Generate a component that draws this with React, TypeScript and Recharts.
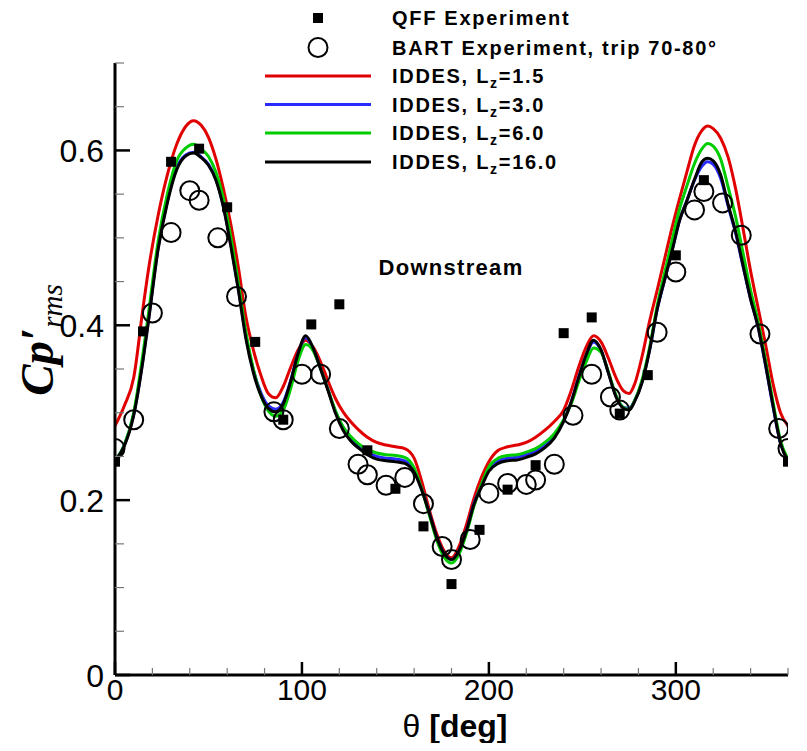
import React from 'react';
import { ComposedChart, Line, Scatter, XAxis, YAxis } from 'recharts';

// ---------- data ----------
const simAngles = [0,5,10,15,18,23,28,33,38,42,46,50,54,58,62,66,70,74,78,82,86,90,94,98,102,106,110,114,118,122,126,130,135,140,145,150,155,160,164,168,172,176,180,184,188,192,196,200,205,210,215,220,225,230,235,240,244,248,252,256,260,264,268,272,275,278,282,286,290,294,298,302,306,310,314,317,320,324,328,332,336,340,344,348,352,356,360];

const iddesLz15 = [0.285,0.308,0.340,0.420,0.465,0.525,0.572,0.607,0.628,0.634,0.629,0.615,0.590,0.556,0.515,0.466,0.410,0.372,0.343,0.322,0.317,0.330,0.352,0.372,0.383,0.375,0.358,0.336,0.316,0.301,0.290,0.281,0.272,0.266,0.263,0.261,0.259,0.248,0.222,0.190,0.162,0.142,0.134,0.147,0.172,0.202,0.226,0.244,0.257,0.261,0.263,0.266,0.272,0.280,0.290,0.303,0.325,0.352,0.375,0.388,0.381,0.362,0.340,0.325,0.322,0.333,0.365,0.405,0.440,0.476,0.512,0.545,0.576,0.606,0.623,0.628,0.625,0.614,0.592,0.556,0.510,0.462,0.420,0.378,0.333,0.300,0.285];

const iddesLz30 = [0.245,0.263,0.298,0.362,0.408,0.488,0.542,0.580,0.595,0.598,0.593,0.584,0.567,0.536,0.492,0.442,0.388,0.349,0.323,0.308,0.304,0.312,0.337,0.368,0.386,0.373,0.350,0.326,0.301,0.283,0.271,0.263,0.255,0.250,0.248,0.247,0.245,0.234,0.213,0.186,0.158,0.139,0.132,0.142,0.165,0.196,0.217,0.236,0.245,0.248,0.249,0.252,0.256,0.263,0.274,0.291,0.312,0.340,0.365,0.381,0.371,0.345,0.319,0.306,0.305,0.314,0.336,0.372,0.418,0.452,0.486,0.520,0.543,0.566,0.582,0.587,0.584,0.568,0.536,0.505,0.467,0.430,0.398,0.354,0.307,0.265,0.246];

const iddesLz60 = [0.245,0.263,0.300,0.368,0.415,0.495,0.550,0.588,0.603,0.607,0.602,0.593,0.575,0.545,0.500,0.448,0.392,0.350,0.320,0.302,0.296,0.303,0.328,0.360,0.378,0.371,0.350,0.326,0.302,0.284,0.273,0.265,0.258,0.254,0.252,0.251,0.249,0.237,0.213,0.184,0.155,0.135,0.128,0.138,0.162,0.193,0.218,0.238,0.248,0.251,0.252,0.255,0.259,0.266,0.276,0.292,0.310,0.335,0.358,0.374,0.369,0.346,0.320,0.306,0.304,0.314,0.338,0.375,0.422,0.460,0.497,0.533,0.560,0.585,0.602,0.608,0.605,0.590,0.558,0.524,0.482,0.440,0.404,0.360,0.312,0.268,0.247];

const iddesLz160 = [0.245,0.262,0.297,0.360,0.406,0.486,0.540,0.578,0.594,0.597,0.592,0.583,0.566,0.535,0.490,0.440,0.385,0.346,0.320,0.305,0.301,0.310,0.336,0.368,0.388,0.374,0.350,0.325,0.299,0.280,0.268,0.260,0.252,0.247,0.245,0.244,0.242,0.232,0.212,0.186,0.158,0.139,0.132,0.142,0.165,0.195,0.215,0.233,0.242,0.245,0.246,0.249,0.253,0.260,0.271,0.290,0.312,0.340,0.366,0.383,0.372,0.345,0.318,0.305,0.303,0.313,0.335,0.372,0.418,0.452,0.485,0.520,0.543,0.567,0.587,0.591,0.588,0.572,0.538,0.507,0.468,0.430,0.398,0.355,0.308,0.265,0.245];

const qffAngles = [0,15,30,45,60,75,90,105,120,135,150,165,180,195,210,225,240,255,270,285,300,315,360];
const qffValues = [0.244,0.393,0.587,0.602,0.535,0.381,0.292,0.401,0.424,0.257,0.213,0.170,0.104,0.166,0.212,0.240,0.391,0.409,0.299,0.343,0.480,0.566,0.244];

const bartAngles = [0,10,20,30,40,45,55,65,85,90,100,110,120,130,135,145,155,165,175,180,190,200,210,220,225,235,245,255,265,270,290,300,310,315,325,335,345,355,360];
const bartValues = [0.259,0.292,0.414,0.506,0.554,0.543,0.500,0.433,0.301,0.292,0.344,0.344,0.282,0.241,0.229,0.217,0.226,0.196,0.147,0.132,0.155,0.208,0.219,0.218,0.223,0.241,0.297,0.344,0.318,0.303,0.392,0.461,0.532,0.553,0.540,0.503,0.390,0.282,0.259];

const xTicks = [0,20,40,60,80,100,120,140,160,180,200,220,240,260,280,300,320,340,360];
const xMajor = [0,100,200,300];
const yTicks = [0,0.05,0.1,0.15,0.2,0.25,0.3,0.35,0.4,0.45,0.5,0.55,0.6,0.65,0.7];
const yMajor = [0,0.2,0.4,0.6];
const yMajorLabels = ['0','0.2','0.4','0.6'];

const seriesNames = ['IDDES, L', 'IDDES, L', 'IDDES, L', 'IDDES, L'];
const seriesLz = ['=1.5', '=3.0', '=6.0', '=16.0'];
const seriesColors = ['#e00000', '#2a2aff', '#00cc00', '#000000'];

// ---------- built tables ----------
const simData = simAngles.map((a, i) => ({ x: a, r: iddesLz15[i], b: iddesLz30[i], g: iddesLz60[i], k: iddesLz160[i] }));
const qffData = qffAngles.map((a, i) => ({ x: a, y: qffValues[i] }));
const bartData = bartAngles.map((a, i) => ({ x: a, y: bartValues[i] }));

const W = 791;
const H = 735;
const SANS = '"Liberation Sans", Arial, Helvetica, sans-serif';
const SERIF = '"Liberation Serif", "Times New Roman", serif';

const YTick = (props: any) => {
  const { x, y, payload } = props;
  const v = payload.value;
  const idx = yMajor.findIndex((m) => Math.abs(m - v) < 1e-6);
  const major = idx >= 0;
  return (
    <g>
      <line x1={x} x2={x + (major ? 15 : 9)} y1={y} y2={y} stroke={major ? '#000' : '#777'} strokeWidth={major ? 2.5 : 1.2} />
      {major && (
        <text x={x - 11} y={y} dy="0.36em" textAnchor="end" fontFamily={SANS} fontSize={32} fill="#000">
          {yMajorLabels[idx]}
        </text>
      )}
    </g>
  );
};

const XTick = (props: any) => {
  const { x, y, payload } = props;
  const v = payload.value;
  const major = xMajor.includes(v);
  return (
    <g>
      <line x1={x} x2={x} y1={y} y2={y - (major ? 13 : 7)} stroke={major ? '#000' : '#777'} strokeWidth={major ? 2.5 : 1.2} />
      {major && (
        <text x={x} y={y + 3} dy="0.72em" textAnchor="middle" fontFamily={SANS} fontSize={30} fill="#000">
          {v}
        </text>
      )}
    </g>
  );
};

const Square = (p: any) => <rect x={p.cx - 5} y={p.cy - 5} width={10} height={10} fill="#000" />;
const Ring = (p: any) => <circle cx={p.cx} cy={p.cy} r={9.5} fill="none" stroke="#000" strokeWidth={2} />;

const Overlay = () => {
  const rowY = [10, 39.5, 68, 96.5, 125, 154];
  const symX = 310;
  const textX = 384;
  const ls = 1.7;
  return (
    <svg width={W} height={H} style={{ position: 'absolute', left: 0, top: 0, pointerEvents: 'none', overflow: 'visible' }}>
      <g fontFamily={SANS} fontWeight="bold" fill="#000">
        <rect x={symX - 5} y={rowY[0] - 5} width={10} height={10} fill="#000" />
        <text x={textX} y={rowY[0]} dy="0.36em" fontSize={20} letterSpacing={ls}>QFF Experiment</text>
        <circle cx={symX} cy={rowY[1]} r={9.5} fill="none" stroke="#000" strokeWidth={2} />
        <text x={textX} y={rowY[1]} dy="0.36em" fontSize={20} letterSpacing={ls}>BART Experiment, trip 70-80°</text>
        {seriesNames.map((n, i) => (
          <g key={i}>
            <line x1={257} x2={363} y1={rowY[i + 2]} y2={rowY[i + 2]} stroke={seriesColors[i]} strokeWidth={3} />
            <text x={textX} y={rowY[i + 2]} dy="0.36em" fontSize={20} letterSpacing={ls}>
              {n}
              <tspan fontSize={14} dy={5}>z</tspan>
              <tspan dy={-5}>{seriesLz[i]}</tspan>
            </text>
          </g>
        ))}
        <text x={443} y={259} dy="0.36em" textAnchor="middle" fontSize={22} letterSpacing={1.3}>Downstream</text>
      </g>
      <text x={447} y={717} dy="0.36em" textAnchor="middle" fontFamily={SANS} fontSize={32} fill="#000">
        θ <tspan fontWeight="bold">[deg]</tspan>
      </text>
      <text transform="translate(45,332) rotate(-90)" textAnchor="middle" fontFamily={SERIF} fill="#000">
        <tspan fontSize={47} fontStyle="italic" fontWeight="bold">Cp′</tspan>
        <tspan fontSize={29} fontStyle="italic" dy={9}>rms</tspan>
      </text>
    </svg>
  );
};

export default function App() {
  return (
    <div style={{ position: 'relative', width: W, height: H }}>
      <ComposedChart width={W} height={H} margin={{ top: 55, right: 11, bottom: 0, left: 0 }}>
        <XAxis
          type="number"
          dataKey="x"
          domain={[0, 360]}
          ticks={xTicks}
          interval={0}
          height={68}
          tickSize={0}
          tickMargin={0}
          tickLine={false}
          axisLine={{ stroke: '#000', strokeWidth: 3 }}
          tick={<XTick />}
          allowDataOverflow
        />
        <YAxis
          type="number"
          dataKey="y"
          domain={[0, 0.7]}
          ticks={yTicks}
          interval={0}
          width={107}
          tickSize={0}
          tickMargin={0}
          tickLine={false}
          axisLine={{ stroke: '#000', strokeWidth: 3 }}
          tick={<YTick />}
          allowDataOverflow
        />
        <Line data={simData} dataKey="r" type="monotone" stroke={seriesColors[0]} strokeWidth={3} dot={false} isAnimationActive={false} />
        <Line data={simData} dataKey="b" type="monotone" stroke={seriesColors[1]} strokeWidth={3} dot={false} isAnimationActive={false} />
        <Line data={simData} dataKey="g" type="monotone" stroke={seriesColors[2]} strokeWidth={3} dot={false} isAnimationActive={false} />
        <Line data={simData} dataKey="k" type="monotone" stroke={seriesColors[3]} strokeWidth={3} dot={false} isAnimationActive={false} />
        <Scatter data={bartData} shape={<Ring />} isAnimationActive={false} />
        <Scatter data={qffData} shape={<Square />} isAnimationActive={false} />
      </ComposedChart>
      <Overlay />
    </div>
  );
}
